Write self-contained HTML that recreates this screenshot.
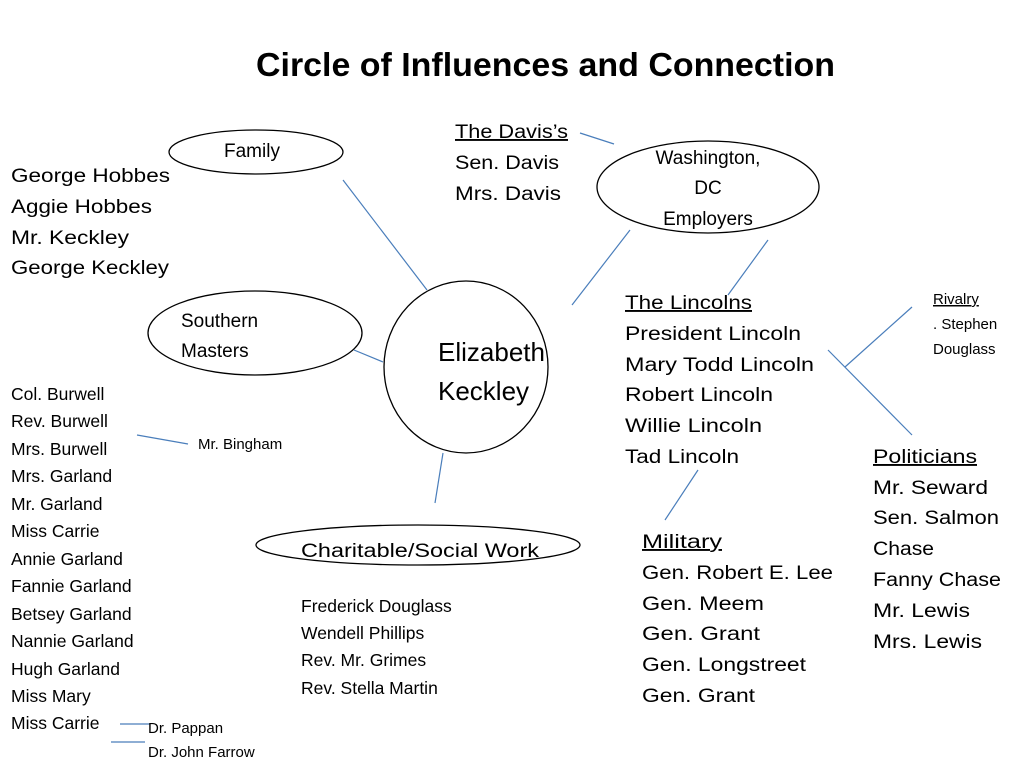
<!DOCTYPE html>
<html><head><meta charset="utf-8"><style>
html,body{margin:0;padding:0;background:#fff;}
svg{display:block;}
text{font-family:"Liberation Sans",sans-serif;fill:#000;}
</style></head><body>
<svg width="1024" height="768" viewBox="0 0 1024 768" xmlns="http://www.w3.org/2000/svg">
<g fill="none" stroke="#000" stroke-width="1.3">
<ellipse cx="256" cy="152" rx="87" ry="22"/>
<ellipse cx="708" cy="187" rx="111" ry="46"/>
<ellipse cx="255" cy="333" rx="107" ry="42"/>
<ellipse cx="466" cy="367" rx="82" ry="86"/>
<ellipse cx="418" cy="545" rx="162" ry="20"/>
</g>
<g stroke="#4a7ebb" stroke-width="1.2">
<line x1="343" y1="180" x2="427" y2="290"/>
<line x1="354" y1="350" x2="383" y2="362"/>
<line x1="443" y1="453" x2="435" y2="503"/>
<line x1="572" y1="305" x2="630" y2="230"/>
<line x1="728" y1="295" x2="768" y2="240"/>
<line x1="580" y1="133" x2="614" y2="144"/>
<line x1="137" y1="435" x2="188" y2="444"/>
<line x1="698" y1="470" x2="665" y2="520"/>
<line x1="120" y1="724" x2="150" y2="724"/>
<line x1="111" y1="742" x2="145" y2="742"/>
<line x1="845" y1="367" x2="912" y2="307"/>
<line x1="828" y1="350" x2="912" y2="435"/>
</g>
<text x="256" y="76" font-size="33" font-weight="bold" textLength="579" lengthAdjust="spacingAndGlyphs">Circle of Influences and Connection</text>

<g font-size="19">
<text x="224" y="157">Family</text>
<text x="11" y="182" textLength="159" lengthAdjust="spacingAndGlyphs">George Hobbes</text>
<text x="11" y="213" textLength="141" lengthAdjust="spacingAndGlyphs">Aggie Hobbes</text>
<text x="11" y="244" textLength="118" lengthAdjust="spacingAndGlyphs">Mr. Keckley</text>
<text x="11" y="274" textLength="158" lengthAdjust="spacingAndGlyphs">George Keckley</text>
<text x="181" y="327">Southern</text>
<text x="181" y="357">Masters</text>
<text x="455" y="138" text-decoration="underline" textLength="113" lengthAdjust="spacingAndGlyphs">The Davis’s</text>
<text x="455" y="169" textLength="104" lengthAdjust="spacingAndGlyphs">Sen. Davis</text>
<text x="455" y="200" textLength="106" lengthAdjust="spacingAndGlyphs">Mrs. Davis</text>
<text x="708" y="164" text-anchor="middle">Washington,</text>
<text x="708" y="194" text-anchor="middle">DC</text>
<text x="708" y="225" text-anchor="middle">Employers</text>
<text x="625" y="309" text-decoration="underline" textLength="127" lengthAdjust="spacingAndGlyphs">The Lincolns</text>
<text x="625" y="340" textLength="176" lengthAdjust="spacingAndGlyphs">President Lincoln</text>
<text x="625" y="371" textLength="189" lengthAdjust="spacingAndGlyphs">Mary Todd Lincoln</text>
<text x="625" y="401" textLength="148" lengthAdjust="spacingAndGlyphs">Robert Lincoln</text>
<text x="625" y="432" textLength="137" lengthAdjust="spacingAndGlyphs">Willie Lincoln</text>
<text x="625" y="463" textLength="114" lengthAdjust="spacingAndGlyphs">Tad Lincoln</text>
<text x="642" y="548" text-decoration="underline" textLength="80" lengthAdjust="spacingAndGlyphs">Military</text>
<text x="642" y="579" textLength="191" lengthAdjust="spacingAndGlyphs">Gen. Robert E. Lee</text>
<text x="642" y="610" textLength="122" lengthAdjust="spacingAndGlyphs">Gen. Meem</text>
<text x="642" y="640" textLength="118" lengthAdjust="spacingAndGlyphs">Gen.  Grant</text>
<text x="642" y="671" textLength="164" lengthAdjust="spacingAndGlyphs">Gen. Longstreet</text>
<text x="642" y="702" textLength="113" lengthAdjust="spacingAndGlyphs">Gen. Grant</text>
<text x="873" y="463" text-decoration="underline" textLength="104" lengthAdjust="spacingAndGlyphs">Politicians</text>
<text x="873" y="494" textLength="115" lengthAdjust="spacingAndGlyphs">Mr. Seward</text>
<text x="873" y="524" textLength="126" lengthAdjust="spacingAndGlyphs">Sen. Salmon</text>
<text x="873" y="555" textLength="61" lengthAdjust="spacingAndGlyphs">Chase</text>
<text x="873" y="586" textLength="128" lengthAdjust="spacingAndGlyphs">Fanny Chase</text>
<text x="873" y="617" textLength="97" lengthAdjust="spacingAndGlyphs">Mr. Lewis</text>
<text x="873" y="648" textLength="109" lengthAdjust="spacingAndGlyphs">Mrs. Lewis</text>
<text x="301" y="557" textLength="238" lengthAdjust="spacingAndGlyphs">Charitable/Social Work</text>
</g>
<text x="438" y="361" font-size="26">Elizabeth</text>
<text x="438" y="400" font-size="26">Keckley</text>

<g font-size="17.5">
<text x="11" y="400">Col. Burwell</text>
<text x="11" y="427">Rev. Burwell</text>
<text x="11" y="455">Mrs.  Burwell</text>
<text x="11" y="482">Mrs. Garland</text>
<text x="11" y="510">Mr. Garland</text>
<text x="11" y="537">Miss Carrie</text>
<text x="11" y="565">Annie Garland</text>
<text x="11" y="592">Fannie Garland</text>
<text x="11" y="620">Betsey Garland</text>
<text x="11" y="647">Nannie Garland</text>
<text x="11" y="675">Hugh Garland</text>
<text x="11" y="702">Miss Mary</text>
<text x="11" y="729">Miss Carrie</text>
<text x="301" y="612">Frederick Douglass</text>
<text x="301" y="639">Wendell Phillips</text>
<text x="301" y="666">Rev. Mr. Grimes</text>
<text x="301" y="694">Rev. Stella Martin</text>
</g>
<g font-size="15">
<text x="198" y="449">Mr. Bingham</text>
<text x="148" y="733">Dr. Pappan</text>
<text x="148" y="757">Dr. John Farrow</text>
<text x="933" y="304" text-decoration="underline">Rivalry</text>
<text x="933" y="329">. Stephen</text>
<text x="933" y="354">Douglass</text>
</g>
</svg>
</body></html>
